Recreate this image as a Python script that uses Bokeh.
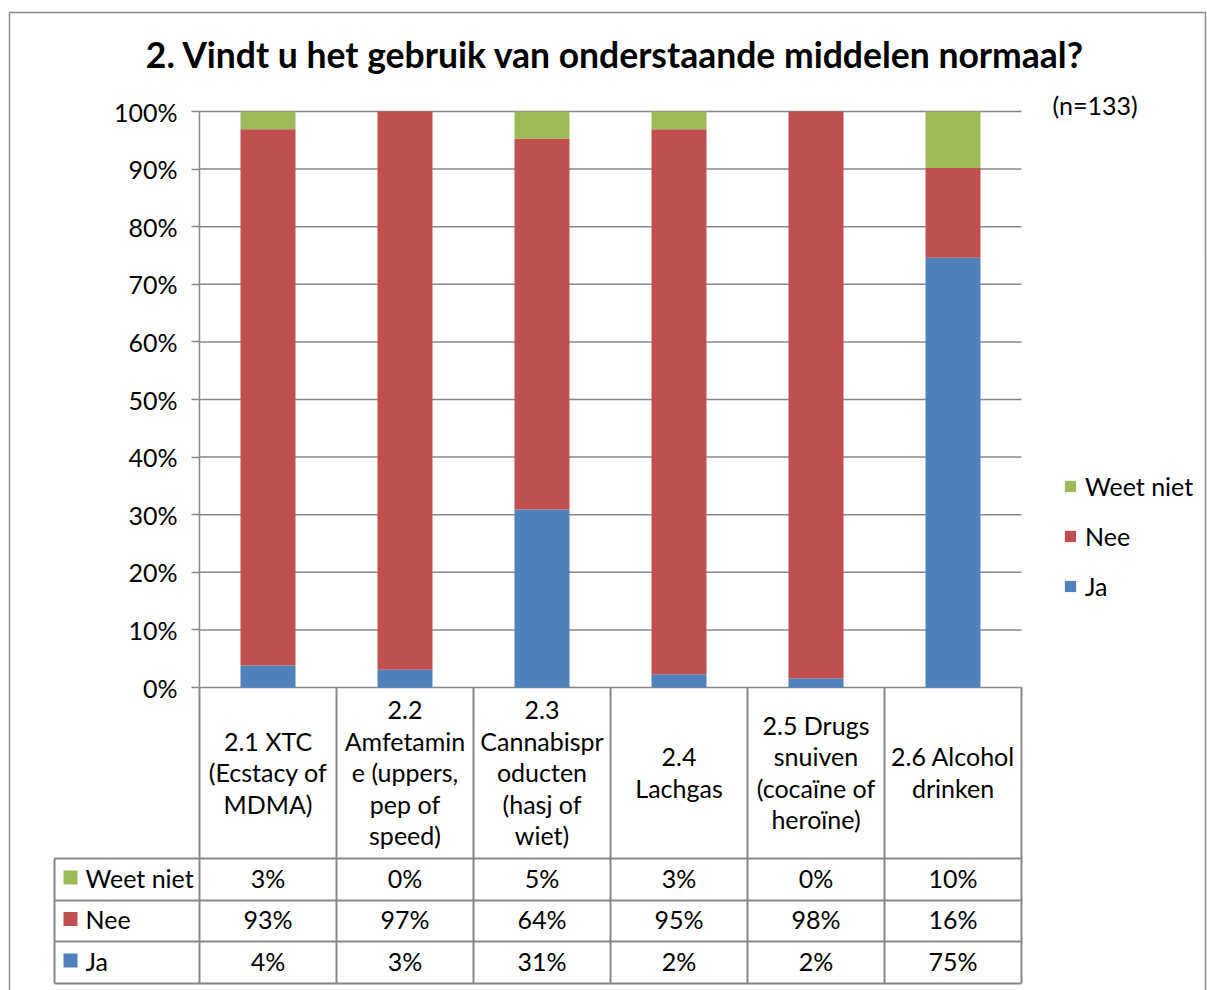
from bokeh.plotting import figure
from bokeh.models import (Range1d, LinearAxis, FixedTicker, PrintfTickFormatter,
                          Legend, LegendItem, ColumnDataSource)
from bokeh.core.properties import value
from bokeh.embed import file_html
from bokeh.resources import INLINE

# ---------------- data ----------------
title_text = "2. Vindt u het gebruik van onderstaande middelen normaal?"
n_text = "(n=133)"
categories = ["2.1 XTC (Ecstacy of MDMA)", "2.2 Amfetamine (uppers, pep of speed)",
              "2.3 Cannabisproducten (hasj of wiet)", "2.4 Lachgas",
              "2.5 Drugs snuiven (cocaïne of heroïne)", "2.6 Alcohol drinken"]
header_labels = ["2.1 XTC\n(Ecstacy of\nMDMA)",
                 "2.2\nAmfetamin\ne (uppers,\npep of\nspeed)",
                 "2.3\nCannabispr\noducten\n(hasj of\nwiet)",
                 "2.4\nLachgas",
                 "2.5 Drugs\nsnuiven\n(cocaïne of\nheroïne)",
                 "2.6 Alcohol\ndrinken"]
ja = [3.8, 3.1, 30.9, 2.3, 1.6, 74.6]
nee = [93.1, 96.9, 64.4, 94.6, 98.4, 15.6]
weet_niet = [3.1, 0.0, 4.7, 3.1, 0.0, 9.8]
series = ["Ja", "Nee", "Weet niet"]
colors = ["#4F81BD", "#C0504D", "#9BBB59"]
y_ticks = [0, 10, 20, 30, 40, 50, 60, 70, 80, 90, 100]

# ---------------- layout (page pixels) ----------------
W, H = 1207, 990
PLOT_L, PLOT_R = 199, 1021
Y_TOP, Y_ZERO = 111, 687
COL_W = (PLOT_R - PLOT_L) / len(categories)
PX_PER_UNIT = (Y_ZERO - Y_TOP) / 100.0
TABLE_L = 54
ROW_EDGES = [858, 900, 941, 983]
FONT = "Lato"
FS = "25px"
GRAY = "#878787"


def dx(px):
    return (px - PLOT_L) / COL_W


def dy(py):
    return (Y_ZERO - py) / PX_PER_UNIT


p = figure(width=W, height=H, x_range=Range1d(dx(0), dx(W)),
           y_range=Range1d(dy(H), dy(0)),
           x_axis_location=None, y_axis_location=None,
           output_backend="svg", toolbar_location=None, min_border=0)
p.outline_line_color = None
p.background_fill_color = "white"
p.border_fill_color = "white"
p.grid.visible = False

# y axis at x = 0 (left edge of the plot area)
yaxis = LinearAxis(ticker=FixedTicker(ticks=y_ticks),
                   formatter=PrintfTickFormatter(format="%d%%"),
                   fixed_location=0, bounds=(0, 100))
yaxis.axis_line_color = GRAY
yaxis.axis_line_width = 1.5
yaxis.major_tick_line_color = GRAY
yaxis.major_tick_line_width = 1.5
yaxis.major_tick_out = 8
yaxis.major_tick_in = 0
yaxis.minor_tick_line_color = None
yaxis.major_label_standoff = 14
yaxis.major_label_text_font = FONT
yaxis.major_label_text_font_size = FS
yaxis.major_label_text_color = "black"
p.add_layout(yaxis, "left")

ncat = len(categories)

# gridlines
p.segment(x0=[0] * len(y_ticks), x1=[ncat] * len(y_ticks), y0=y_ticks, y1=y_ticks,
          line_color=GRAY, line_width=1.5)

# stacked bars
src = ColumnDataSource(dict(x=[i + 0.5 for i in range(ncat)], Ja=ja, Nee=nee,
                            **{"Weet niet": weet_niet}))
rs = p.vbar_stack(series, x="x", width=55 / COL_W, color=colors, line_color=None,
                  source=src)

# ---------------- data table ----------------
y_bot = dy(ROW_EDGES[-1])
p.segment(x0=list(range(ncat + 1)), x1=list(range(ncat + 1)),
          y0=[0] * (ncat + 1), y1=[y_bot] * (ncat + 1), line_color=GRAY, line_width=2)
p.segment(x0=[dx(TABLE_L)], x1=[dx(TABLE_L)], y0=[dy(ROW_EDGES[0])], y1=[y_bot],
          line_color=GRAY, line_width=2)
p.segment(x0=[dx(TABLE_L)] * len(ROW_EDGES), x1=[ncat] * len(ROW_EDGES),
          y0=[dy(e) for e in ROW_EDGES], y1=[dy(e) for e in ROW_EDGES],
          line_color=GRAY, line_width=2)

# header category labels
p.text(x=[i + 0.5 for i in range(ncat)], y=[dy((Y_ZERO + ROW_EDGES[0]) / 2 - 1)] * ncat,
       text=header_labels, text_align="center", text_baseline="middle",
       text_font=value(FONT), text_font_size=FS, text_line_height=1.05,
       text_color="black")

rows = [("Weet niet", weet_niet, colors[2]), ("Nee", nee, colors[1]), ("Ja", ja, colors[0])]
for k, (name, vals, col) in enumerate(rows):
    yc = dy((ROW_EDGES[k] + ROW_EDGES[k + 1]) / 2 - 2)
    p.rect(x=[dx(70)], y=[yc], width=14, height=14, width_units="screen",
           height_units="screen", fill_color=col, line_color=None)
    p.text(x=[dx(85)], y=[yc], text=[name], text_align="left", text_baseline="middle",
           text_font=value(FONT), text_font_size=FS, text_color="black")
    p.text(x=[i + 0.5 for i in range(ncat)], y=[yc] * ncat,
           text=[f"{v:.0f}%" for v in vals], text_align="center",
           text_baseline="middle", text_font=value(FONT), text_font_size=FS,
           text_color="black")

# title and n
p.text(x=[dx(615)], y=[dy(54)], text=[title_text], text_align="center",
       text_baseline="middle", text_font=value(FONT), text_font_size="35.5px",
       text_font_style="bold", text_color="black")
p.text(x=[dx(1052)], y=[dy(104)], text=[n_text], text_align="left",
       text_baseline="middle", text_font=value(FONT), text_font_size=FS,
       text_color="black")

# outer chart border
bx0, bx1, by0 = dx(9), dx(1205), dy(12)
p.multi_line(xs=[[bx0, bx0, bx1, bx1]], ys=[[dy(H + 20), by0, by0, dy(H + 20)]],
             line_color="#8c8c8c", line_width=1.5)

# legend
legend = Legend(items=[LegendItem(label="Weet niet", renderers=[rs[2]]),
                       LegendItem(label="Nee", renderers=[rs[1]]),
                       LegendItem(label="Ja", renderers=[rs[0]])],
                location=(1063, H - 601))
legend.padding = 0
legend.margin = 0
legend.spacing = 20
legend.glyph_width = 14
legend.glyph_height = 14
legend.label_height = 28
legend.label_standoff = 8
legend.label_text_font = FONT
legend.label_text_font_size = FS
legend.label_text_color = "black"
legend.border_line_color = None
legend.background_fill_alpha = 0
p.add_layout(legend)

open("out.html", "w").write(file_html(p, INLINE))
